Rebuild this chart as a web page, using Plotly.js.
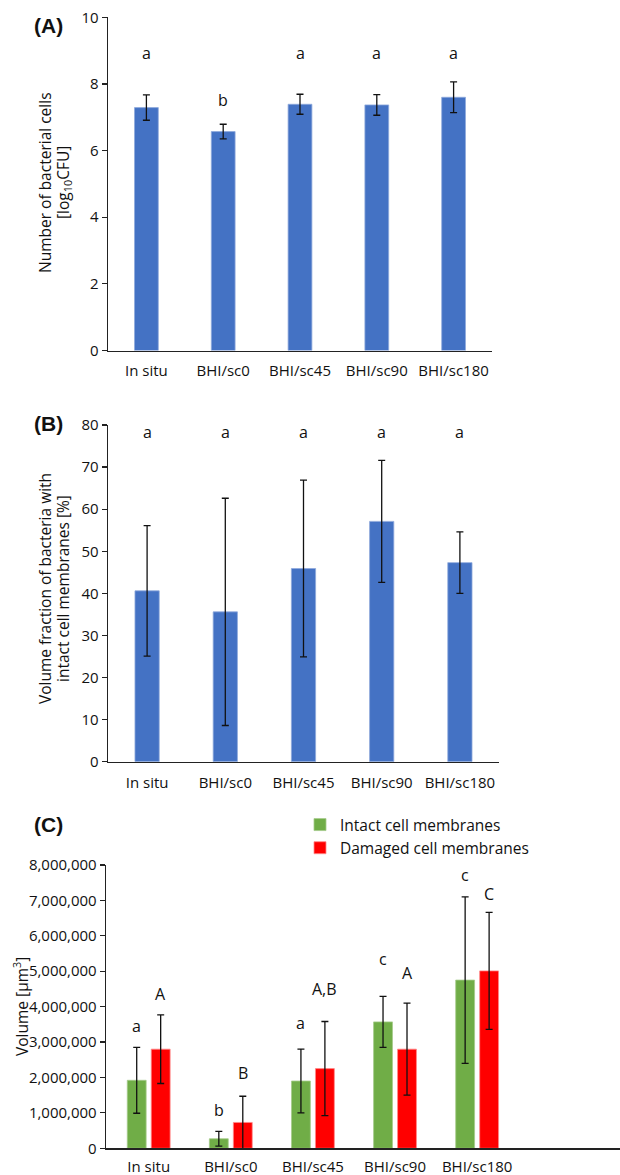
<!DOCTYPE html>
<html>
<head>
<meta charset="utf-8">
<script src="https://cdn.plot.ly/plotly-3.0.1.min.js"></script>
<style>html,body{margin:0;padding:0;background:#fff;}#chart{width:620px;height:1175px;}</style>
</head>
<body>
<div id="chart"></div>
<script>
// ---------- data ----------
const categories = ["In situ", "BHI/sc0", "BHI/sc45", "BHI/sc90", "BHI/sc180"];

// Panel A: number of bacterial cells [log10 CFU]
const cellsLog = [7.29, 6.57, 7.39, 7.37, 7.60];
const cellsErr = [0.38, 0.22, 0.30, 0.31, 0.46];
const cellsLetters = ["a", "b", "a", "a", "a"];
const cellsLetterY = [8.93, 7.52, 8.93, 8.93, 8.93];

// Panel B: volume fraction with intact membranes [%]
const fracIntact = [40.6, 35.6, 45.9, 57.1, 47.3];
const fracErr = [15.5, 27.0, 21.0, 14.5, 7.3];
const fracLetters = ["a", "a", "a", "a", "a"];
const fracLetterY = [78.4, 78.4, 78.4, 78.4, 78.4];

// Panel C: volume [µm³]
const volIntact = [1920000, 270000, 1900000, 3570000, 4750000];
const volIntactErr = [930000, 210000, 900000, 720000, 2350000];
const volDamaged = [2800000, 730000, 2250000, 2800000, 5010000];
const volDamagedErr = [970000, 740000, 1330000, 1300000, 1650000];
const intactLetters = ["a", "b", "a", "c", "c"];
const intactLetterY = [3450000, 1070000, 3550000, 5350000, 7720000];
const damagedLetters = ["A", "B", "A,B", "A", "C"];
const damagedLetterY = [4360000, 2120000, 4490000, 4940000, 7180000];

const seriesNames = ["Intact cell membranes", "Damaged cell membranes"];

// ---------- styling ----------
const FONT = "Open Sans, Noto Sans, sans-serif";
const BLUE = "#4472C4", GREEN = "#70AD47", RED = "#FF0000";
const errStyle = {type: "data", color: "#111", thickness: 1.3, width: 3.5};

const singleW = 0.31;
const cW = 0.23;
const cShift = 0.146;

const traces = [
  {type: "bar", x: categories, y: cellsLog, xaxis: "x", yaxis: "y",
   width: singleW, marker: {color: BLUE, line: {color: "#8FA9DC", width: 0.8}},
   error_y: Object.assign({array: cellsErr}, errStyle), showlegend: false, hoverinfo: "skip"},
  {type: "bar", x: categories, y: fracIntact, xaxis: "x2", yaxis: "y2",
   width: singleW, marker: {color: BLUE, line: {color: "#8FA9DC", width: 0.8}},
   error_y: Object.assign({array: fracErr}, errStyle), showlegend: false, hoverinfo: "skip"},
  {type: "bar", name: seriesNames[0], x: categories, y: volIntact, xaxis: "x3", yaxis: "y3",
   width: cW, offset: -cShift - cW / 2, marker: {color: GREEN, line: {color: "#A6CC8C", width: 0.8}},
   error_y: Object.assign({array: volIntactErr}, errStyle), hoverinfo: "skip"},
  {type: "bar", name: seriesNames[1], x: categories, y: volDamaged, xaxis: "x3", yaxis: "y3",
   width: cW, offset: cShift - cW / 2, marker: {color: RED, line: {color: "#FF8A8A", width: 0.8}},
   error_y: Object.assign({array: volDamagedErr}, errStyle), hoverinfo: "skip"}
];

// ---------- annotations ----------
const annotations = [];
const letterFont = {family: FONT, size: 16, color: "#111"};
categories.forEach((c, i) => {
  annotations.push({xref: "x", yref: "y", x: i, y: cellsLetterY[i], text: cellsLetters[i],
    showarrow: false, font: letterFont});
  annotations.push({xref: "x2", yref: "y2", x: i, y: fracLetterY[i], text: fracLetters[i],
    showarrow: false, font: letterFont});
  annotations.push({xref: "x3", yref: "y3", x: i - cShift, y: intactLetterY[i], text: intactLetters[i],
    showarrow: false, font: letterFont});
  annotations.push({xref: "x3", yref: "y3", x: i + cShift, y: damagedLetterY[i], text: damagedLetters[i],
    showarrow: false, font: letterFont});
});

const panelFont = {family: "Liberation Sans, Arial, sans-serif", size: 21, color: "#111"};
[["(A)", 26], ["(B)", 423], ["(C)", 824]].forEach(p => {
  annotations.push({xref: "paper", yref: "paper", x: 48 / 620, y: 1 - p[1] / 1175,
    text: "<b>" + p[0] + "</b>", showarrow: false, font: panelFont, xanchor: "center", yanchor: "middle"});
});

const titleFont = {family: FONT, size: 15.5, color: "#111"};
function yTitle(text, xpx, ypx) {
  annotations.push({xref: "paper", yref: "paper", x: xpx / 620, y: 1 - ypx / 1175,
    text: text, textangle: -90, showarrow: false, font: titleFont, xanchor: "center", yanchor: "middle"});
}
yTitle("Number of bacterial cells", 45, 183);
yTitle("[log<sub>10</sub>CFU]", 63, 183);
yTitle("Volume fraction of bacteria with", 45, 589);
yTitle("intact cell membranes [%]", 63, 589);
yTitle("Volume [µm<sup>3</sup>]", 21, 1007);

// ---------- axes ----------
const tickFont = {family: FONT, size: 15, color: "#111"};
function xAx(domain, range, anchor, standoff) {
  return {domain: domain, anchor: anchor, type: "category", range: range,
    showline: true, linecolor: "#222", linewidth: 1.3, ticks: "", showgrid: false,
    zeroline: false, tickfont: tickFont, ticklabelstandoff: standoff, fixedrange: true};
}
function yAx(domain, range, dtick, anchor, fmt) {
  return {domain: domain, anchor: anchor, range: range, dtick: dtick, tick0: 0,
    showline: true, linecolor: "#222", linewidth: 1.3, ticks: "outside", ticklen: 5,
    tickcolor: "#222", tickwidth: 1.2, showgrid: false, zeroline: false,
    tickfont: tickFont, tickformat: fmt || "", fixedrange: true};
}

const layout = {
  width: 620, height: 1175,
  margin: {l: 0, r: 0, t: 0, b: 0},
  paper_bgcolor: "#fff", plot_bgcolor: "rgba(0,0,0,0)",
  font: {family: FONT, color: "#111"},
  barmode: "overlay",
  separators: ".,",
  showlegend: true,
  legend: {x: 300 / 620, y: 1 - 808 / 1175, xanchor: "left", yanchor: "top",
    font: {family: FONT, size: 15.5, color: "#111"}, bgcolor: "rgba(0,0,0,0)",
    itemclick: false, itemdoubleclick: false},
  xaxis: xAx([108 / 620, 492 / 620], [-0.5, 4.5], "y", 6),
  yaxis: yAx([1 - 350.5 / 1175, 1 - 17.3 / 1175], [0, 10], 2, "x"),
  xaxis2: xAx([108 / 620, 499 / 620], [-0.5, 4.5], "y2", 7),
  yaxis2: yAx([1 - 761.7 / 1175, 1 - 425 / 1175], [0, 80], 10, "x2"),
  xaxis3: xAx([106 / 620, 1.0], [-0.52, 5.74], "y3", 4),
  yaxis3: yAx([1 - 1148.3 / 1175, 1 - 865 / 1175], [0, 8000000], 1000000, "x3", ",d"),
  annotations: annotations
};

Plotly.newPlot("chart", traces, layout, {displayModeBar: false, staticPlot: true});
</script>
</body>
</html>
